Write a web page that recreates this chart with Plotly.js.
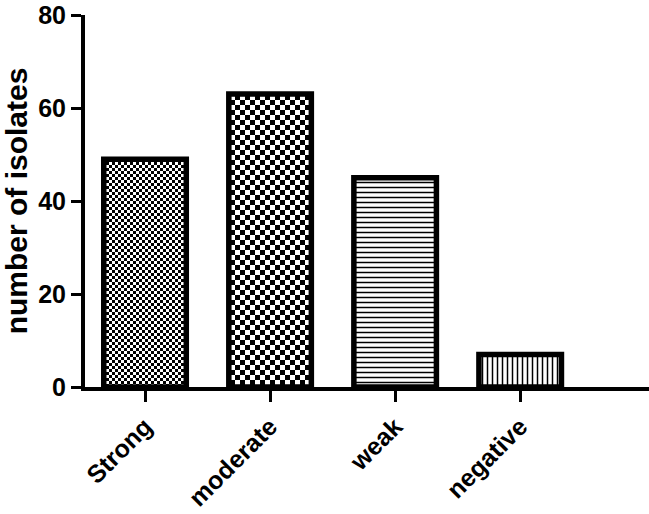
<!DOCTYPE html>
<html>
<head>
<meta charset="utf-8">
<script src="https://cdn.plot.ly/plotly-3.0.1.min.js"></script>
<style>
html,body{margin:0;padding:0;background:#fff;}
#chart{width:649px;height:514px;}
</style>
</head>
<body>
<svg width="0" height="0" style="position:absolute">
  <defs>
    <pattern id="chkFine" width="6" height="6" patternUnits="userSpaceOnUse">
      <rect width="6" height="6" fill="#ffffff"/>
      <rect x="0" y="0" width="3" height="3" fill="#000000"/>
      <rect x="3" y="3" width="3" height="3" fill="#000000"/>
    </pattern>
    <pattern id="chkCoarse" width="10" height="10" patternUnits="userSpaceOnUse">
      <rect width="10" height="10" fill="#ffffff"/>
      <rect x="0" y="0" width="5" height="5" fill="#000000"/>
      <rect x="5" y="5" width="5" height="5" fill="#000000"/>
    </pattern>
  </defs>
</svg>
<div id="chart"></div>
<script>
const categories = ["Strong", "moderate", "weak", "negative"];
const isolateCounts = [49, 63, 45, 7];
const yTickValues = [0, 20, 40, 60, 80];

const patternShapes = ["", "", "-", "|"];
const customFills = ["url(#chkFine)", "url(#chkCoarse)", null, null];

const trace = {
  type: "bar",
  x: categories,
  y: isolateCounts,
  width: 0.66,
  marker: {
    color: "#ffffff",
    line: {color: "#000000", width: 5.5},
    pattern: {
      shape: patternShapes,
      fgcolor: "#000000",
      bgcolor: "#ffffff",
      size: 5,
      solidity: 0.3,
      fillmode: "replace"
    }
  },
  hoverinfo: "none"
};

const boldFont = function(sz) {
  return {size: sz, family: "Liberation Sans, Arial, sans-serif", weight: "bold", color: "#000000"};
};

const layout = {
  width: 649,
  height: 514,
  margin: {l: 85, r: 0, t: 15, b: 127},
  paper_bgcolor: "#ffffff",
  plot_bgcolor: "#ffffff",
  showlegend: false,
  font: {family: "Liberation Sans, Arial, sans-serif", color: "#000000"},
  xaxis: {
    type: "category",
    range: [-0.48, 4.03],
    showline: true,
    linecolor: "#000000",
    linewidth: 4,
    ticks: "outside",
    ticklen: 11,
    tickwidth: 3,
    tickcolor: "#000000",
    tickangle: -45,
    tickfont: boldFont(25),
    ticklabeloverflow: "allow",
    showgrid: false,
    zeroline: false,
    fixedrange: true
  },
  yaxis: {
    range: [0, 80],
    tickvals: yTickValues,
    ticktext: yTickValues.map(String),
    showline: true,
    linecolor: "#000000",
    linewidth: 4,
    ticks: "outside",
    ticklen: 10,
    tickwidth: 3,
    tickcolor: "#000000",
    tickfont: boldFont(25),
    ticklabeloverflow: "allow",
    showgrid: false,
    zeroline: false,
    title: {text: "number of isolates", font: boldFont(30), standoff: 8},
    fixedrange: true
  }
};

Plotly.newPlot("chart", [trace], layout, {displayModeBar: false, staticPlot: true}).then(function(gd) {
  const paths = gd.querySelectorAll(".barlayer .point path");
  paths.forEach(function(p, i) {
    if (customFills[i]) {
      p.style.fill = customFills[i];
      p.style.fillOpacity = 1;
    }
  });
});
</script>
</body>
</html>
